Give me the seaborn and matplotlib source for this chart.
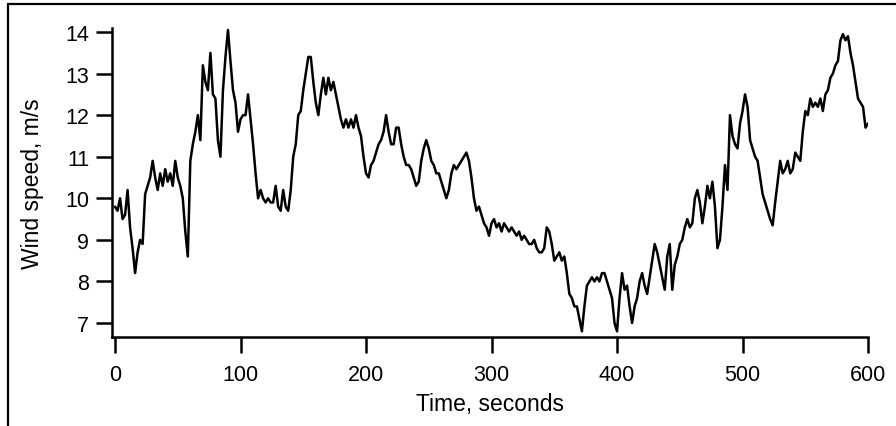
import numpy as np
import pandas as pd
import matplotlib
matplotlib.use("Agg")
import matplotlib.pyplot as plt
import seaborn as sns
from matplotlib.lines import Line2D

time_s = np.arange(0, 602, 2)
wind_speed = [
    9.8, 9.7, 10.0, 9.5, 9.6, 10.2, 9.3, 8.8, 8.2, 8.7,
    9.0, 8.9, 10.1, 10.3, 10.5, 10.9, 10.5, 10.2, 10.6, 10.3,
    10.7, 10.4, 10.6, 10.3, 10.9, 10.5, 10.3, 10.0, 9.2, 8.6,
    10.9, 11.3, 11.6, 12.0, 11.4, 13.2, 12.8, 12.6, 13.5, 12.5,
    12.4, 11.4, 11.0, 12.6, 13.4, 14.05, 13.3, 12.6, 12.3, 11.6,
    11.9, 12.0, 12.0, 12.5, 11.9, 11.3, 10.6, 10.0, 10.2, 10.0,
    9.9, 10.0, 9.9, 9.9, 10.3, 9.8, 9.7, 10.2, 9.8, 9.7,
    10.2, 11.0, 11.3, 12.0, 12.1, 12.6, 13.0, 13.4, 13.4, 12.8,
    12.3, 12.0, 12.5, 12.9, 12.5, 12.9, 12.6, 12.8, 12.5, 12.2,
    11.9, 11.7, 11.9, 11.7, 11.9, 11.7, 12.0, 11.7, 11.5, 11.0,
    10.6, 10.5, 10.8, 10.9, 11.1, 11.3, 11.4, 11.6, 12.0, 11.6,
    11.3, 11.3, 11.7, 11.7, 11.3, 11.0, 10.8, 10.8, 10.7, 10.5,
    10.3, 10.4, 10.9, 11.2, 11.4, 11.2, 10.9, 10.8, 10.6, 10.6,
    10.4, 10.2, 10.0, 10.2, 10.6, 10.8, 10.7, 10.8, 10.9, 11.0,
    11.1, 10.9, 10.5, 10.0, 9.7, 9.8, 9.6, 9.4, 9.3, 9.1,
    9.4, 9.5, 9.3, 9.4, 9.2, 9.4, 9.3, 9.2, 9.3, 9.2,
    9.1, 9.2, 9.0, 9.1, 9.0, 8.9, 8.9, 9.0, 8.8, 8.7,
    8.7, 8.8, 9.3, 9.2, 8.9, 8.5, 8.6, 8.7, 8.5, 8.6,
    8.2, 7.7, 7.6, 7.4, 7.4, 7.1, 6.8, 7.4, 7.9, 8.0,
    8.1, 8.0, 8.1, 8.0, 8.2, 8.2, 8.0, 7.8, 7.6, 7.0,
    6.8, 7.6, 8.2, 7.8, 7.9, 7.4, 7.0, 7.4, 7.6, 8.0,
    8.2, 7.9, 7.7, 8.1, 8.5, 8.9, 8.7, 8.4, 8.1, 7.8,
    8.6, 8.9, 7.8, 8.4, 8.6, 8.9, 9.0, 9.3, 9.5, 9.3,
    9.4, 10.0, 10.2, 9.9, 9.4, 9.8, 10.3, 10.0, 10.4, 9.8,
    8.8, 9.0, 9.8, 10.8, 10.2, 12.0, 11.5, 11.3, 11.2, 11.8,
    12.1, 12.5, 12.2, 11.4, 11.2, 11.0, 10.9, 10.5, 10.1, 9.9,
    9.7, 9.5, 9.35, 9.9, 10.4, 10.9, 10.6, 10.7, 10.9, 10.6,
    10.7, 11.1, 11.0, 10.9, 11.6, 12.1, 12.0, 12.4, 12.2, 12.3,
    12.2, 12.4, 12.1, 12.5, 12.6, 12.9, 13.0, 13.2, 13.3, 13.8,
    13.95, 13.8, 13.9, 13.5, 13.2, 12.8, 12.4, 12.3, 12.2, 11.7,
    11.8,
]
x_ticks = [0, 100, 200, 300, 400, 500, 600]
y_ticks = [7, 8, 9, 10, 11, 12, 13, 14]

df = pd.DataFrame({"time": time_s, "speed": wind_speed})

sns.set_theme(style="ticks")
plt.rcParams['font.family'] = ['Liberation Sans', 'DejaVu Sans']
plt.rcParams['text.color'] = 'black'
plt.rcParams['axes.labelcolor'] = 'black'

fig = plt.figure(figsize=(8.96, 4.27), dpi=100)
ax = fig.add_axes([0.125, 0.2084, 0.8438, 0.7236])

sns.lineplot(data=df, x="time", y="speed", ax=ax, color="black", linewidth=1.8)

ax.set_xlim(-2.4, 600)
ax.set_ylim(6.663, 14.096)
ax.set_xticks(x_ticks)
ax.set_yticks(y_ticks)
sns.despine(ax=ax)
for s in ["left", "bottom"]:
    ax.spines[s].set_linewidth(1.8)
    ax.spines[s].set_color("black")
ax.tick_params(axis="both", direction="out", length=11.5, width=1.8,
               colors="black", labelsize=15.5)
ax.tick_params(axis="y", pad=5)
ax.tick_params(axis="x", pad=8)
ax.set_xlabel("Time, seconds", fontsize=16.5, labelpad=5)
ax.set_ylabel("Wind speed, m/s", fontsize=16.5, labelpad=15)

# outer frame (top and left edges only, as in the original crop)
fig.add_artist(Line2D([8 / 896, 1.0], [1 - 5 / 427, 1 - 5 / 427],
                      transform=fig.transFigure, color="black", linewidth=1.6))
fig.add_artist(Line2D([8 / 896, 8 / 896], [0, 1 - 5 / 427],
                      transform=fig.transFigure, color="black", linewidth=1.6))

fig.savefig("out.png", dpi=100)
